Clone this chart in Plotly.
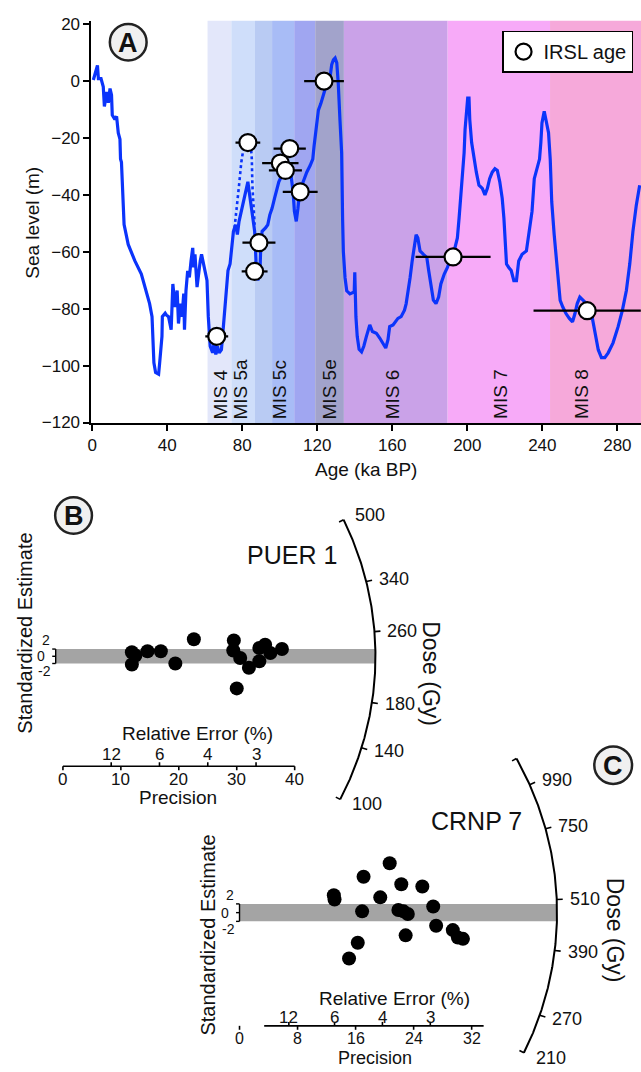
import numpy as np
import plotly.graph_objects as go

W, H = 641, 1072
FONT = "Arial, 'Liberation Sans', sans-serif"
INK = "#111111"
SEA_BLUE = "#0b34fb"

# ---------------- Panel A data ----------------
sea_age = [0.6, 1.5, 2.8, 3.3, 4.7, 5.9, 6.5, 7.7, 8.6, 9.5, 10.3, 10.7, 12.1, 13.0, 13.9,
           14.8, 15.1, 15.6, 16.2, 17.0, 19.2, 22.7, 26.2, 28.9, 30.6, 31.9, 32.4, 32.9,
           33.8, 35.4, 35.9, 37.2, 37.4, 38.9, 39.5, 40.7, 42.1, 43.0, 44.2, 45.3, 46.0,
           47.0, 47.9, 48.8, 49.2, 50.0, 50.9, 51.8, 52.7, 53.6, 54.1, 54.8, 55.9, 56.8,
           57.6, 58.3, 59.4, 60.1, 61.2, 61.9, 62.9, 64.2, 65.0, 65.9, 66.8, 67.7, 68.9,
           69.5, 70.3, 71.2, 72.4, 73.5, 74.2, 75.3, 76.5, 77.4, 78.3, 79.5, 80.9, 82.3,
           83.0, 83.7, 84.8, 85.9, 86.6, 87.1, 87.6, 88.3, 89.4, 89.8, 90.6, 92.4, 93.6,
           94.7, 95.9, 97.2, 98.2, 99.5, 101.2, 103.0, 104.8, 106.0, 107.1, 107.8, 108.8,
           109.7, 110.6, 111.8, 113.0, 114.4, 116.2, 117.6, 118.3, 119.4, 120.6, 121.9,
           122.9, 123.6, 125.0, 126.8, 127.7, 128.6, 129.5, 130.4, 131.2, 132.1, 133.0,
           133.5, 133.9, 134.8, 135.7, 137.4, 138.8, 139.7, 140.0, 140.6, 141.3, 142.3,
           143.6, 144.8, 146.2, 148.0, 149.4, 151.5, 153.3, 155.0, 156.5, 157.7, 158.6,
           160.4, 163.0, 164.7, 166.5, 167.4, 168.3, 169.5, 170.6, 171.8, 172.7, 173.6,
           174.8, 176.6, 178.4, 179.4, 180.6, 181.9, 183.3, 184.7, 185.9, 187.7, 189.4,
           191.2, 193.0, 194.7, 195.6, 196.5, 197.4, 198.3, 198.8, 199.5, 200.2, 200.9,
           201.3, 202.3, 203.6, 204.8, 206.2, 208.0, 209.4, 210.7, 211.9, 213.3, 214.7,
           216.0, 217.3, 218.6, 219.5, 220.4, 220.9, 222.1, 223.4, 224.8, 226.2, 227.4,
           229.2, 231.5, 233.2, 234.5, 235.7, 237.1, 238.5, 239.2, 239.8, 241.0, 242.0,
           243.3, 244.2, 245.0, 246.3, 247.3, 248.6, 249.5, 250.9, 252.6, 254.4, 256.1,
           257.4, 258.6, 260.0, 261.8, 263.6, 266.2, 268.0, 269.8, 271.5, 273.3, 275.1,
           277.7, 280.4, 282.7, 284.8, 286.6, 288.3, 290.1, 291.9]
sea_level = [0.4, 2.7, 5.5, 0.9, 0.9, -2.0, -8.9, -3.8, -7.6, -2.6, -4.9, -11.9, -13.5, -12.4,
             -18.2, -20.4, -27.4, -28.5, -38.9, -50.4, -57.4, -63.1, -67.8, -73.6, -78.2,
             -82.8, -89.7, -99.0, -102.4, -103.0, -99.6, -89.7, -82.8, -81.6, -82.2, -82.8,
             -87.4, -71.3, -79.4, -73.6, -85.2, -78.2, -82.8, -74.7, -87.4, -73.6, -66.7,
             -69.0, -63.2, -58.6, -65.5, -60.9, -72.4, -66.7, -63.2, -60.9, -64.3, -67.8,
             -70.1, -82.8, -93.2, -95.5, -92.0, -96.1, -93.2, -95.5, -94.4, -89.8, -82.8,
             -74.7, -66.6, -64.3, -59.7, -52.8, -50.5, -53.9, -49.3, -45.8, -41.2, -36.6,
             -35.4, -38.9, -43.5, -48.1, -52.7, -59.7, -67.7, -70.0, -67.7, -59.7, -52.8,
             -51.6, -50.5, -47.0, -44.7, -41.2, -38.9, -35.4, -33.1, -30.8, -28.5, -33.1,
             -38.9, -45.8, -49.3, -44.7, -38.9, -36.6, -34.3, -32.0, -29.7, -27.4, -22.8,
             -15.9, -10.2, -7.9, -5.6, -3.3, -1.0, 1.3, 5.8, 7.5, 8.1, 6.4, -1.0, -13.7,
             -25.2, -48.3, -59.8, -69.1, -73.7, -74.8, -74.2, -74.1, -67.2, -82.8, -89.7,
             -94.3, -95.2, -93.2, -89.7, -85.7, -88.0, -88.6, -90.3, -92.0, -93.8, -90.9,
             -86.3, -85.7, -83.4, -82.8, -80.5, -78.2, -74.7, -69.0, -63.2, -58.6, -54.0,
             -55.1, -59.7, -60.9, -62.0, -66.6, -72.4, -77.0, -78.2, -75.9, -71.3, -67.8,
             -65.5, -62.0, -59.7, -55.1, -48.2, -41.2, -34.3, -25.1, -17.0, -11.2, -6.0,
             -6.0, -13.5, -21.6, -27.4, -32.0, -36.6, -37.7, -40.0, -37.7, -34.3, -32.0,
             -30.8, -31.4, -35.4, -41.2, -48.1, -57.4, -64.3, -65.5, -66.6, -70.1, -70.1,
             -63.2, -60.9, -59.7, -52.8, -45.8, -34.3, -30.8, -27.4, -21.6, -14.7, -10.6,
             -13.5, -18.1, -27.4, -42.4, -53.9, -62.0, -71.3, -77.1, -79.4, -81.7, -83.4,
             -84.6, -81.7, -78.2, -75.9, -77.1, -78.2, -81.7, -87.4, -94.4, -97.2, -97.2,
             -95.5, -92.0, -86.3, -80.5, -73.6, -64.3, -52.8, -43.6, -36.6]

# alternative (dotted) MIS 5a highstand
alt_5a_age = [75.9, 77.0, 78.3, 79.5, 80.6, 82.0, 84.4, 85.1, 85.4, 86.1, 86.6]
alt_5a_level = [-51.6, -43.5, -36.6, -28.5, -23.9, -21.0, -21.0, -27.4, -36.6, -44.7, -50.5]

# IRSL ages (ka) with 1-sigma errors, plotted at their sea-level position (m)
irsl_age = [66.4, 83.0, 86.6, 88.9, 105.3, 100.3, 103.0, 110.9, 123.6, 192.4, 263.9]
irsl_level = [-89.7, -21.6, -66.9, -56.8, -23.7, -28.8, -31.4, -38.9, 0.0, -61.8, -80.7]
irsl_err = [6.1, 6.6, 6.9, 8.8, 8.6, 9.7, 8.8, 9.3, 10.6, 20.0, 28.6]

# marine isotope stages
mis_start = [61.5, 74.2, 86.8, 95.9, 107.7, 118.9, 134.2, 189.5, 244.1]
mis_end = [74.2, 86.8, 95.9, 107.7, 118.9, 134.2, 189.5, 244.1, 292.6]
mis_colors = ["#e3e7fa", "#cfdefa", "#b9cbf3", "#a8bcf6", "#a0a6f1", "#a2a3cb",
              "#caa2e8", "#f7aaf8", "#f6a9da"]
mis_label_text = ["MIS 4", "MIS 5a", "MIS 5c", "MIS 5e", "MIS 6", "MIS 7", "MIS 8"]
mis_label_age = [68.2, 79.2, 100.3, 126.3, 160.3, 217.7, 260.9]

age_ticks = [0, 40, 80, 120, 160, 200, 240, 280]
level_ticks = [-120, -100, -80, -60, -40, -20, 0, 20]

# ---------------- Panel B data (PUER 1 radial plot) ----------------
puer1_precision = [11.9, 11.9, 12.5, 14.6, 16.9, 19.4, 22.6, 29.5, 29.4, 30.0, 30.6,
                   32.1, 33.9, 33.9, 34.9, 35.8, 37.8]
puer1_std_est = [1.1, -2.3, 0.2, 1.4, 1.4, -2.0, 4.7, 4.4, 1.6, -8.9, -0.5, -3.2,
                 -1.4, 2.3, 3.2, 0.9, 2.0]
puer1_central_dose = 229.0
puer1_dose_ticks = [500, 340, 260, 180, 140, 100]
puer1_dose_limits = [100, 500]
puer1_precision_ticks = [0, 10, 20, 30, 40]
puer1_rel_err_ticks = [12, 6, 4, 3]
puer1_rel_err_pos = [100 / r for r in puer1_rel_err_ticks]

# ---------------- Panel C data (CRNP 7 radial plot) ----------------
crnp7_precision = [13.0, 13.1, 17.1, 20.7, 22.3, 25.2, 19.4, 16.9, 21.9, 22.6, 23.2,
                   26.7, 27.1, 22.9, 29.4, 30.1, 30.8, 16.3, 15.1]
crnp7_std_est = [4.0, 3.0, 8.2, 11.3, 6.5, 6.0, 3.5, 0.3, 0.6, 0.3, -0.3, 1.4, -3.0,
                 -5.2, -4.0, -5.7, -6.0, -6.9, -10.5]
crnp7_central_dose = 476.0
crnp7_dose_ticks = [990, 750, 510, 390, 270, 210]
crnp7_dose_limits = [210, 1200]
crnp7_precision_ticks = [0, 8, 16, 24, 32]
crnp7_rel_err_ticks = [12, 6, 4, 3]
crnp7_rel_err_pos = [6.8, 13.1, 19.7, 26.3]


def px(x):
    return x / W


def py(y):
    return 1 - y / H


fig = go.Figure()
shapes = []
annotations = []

# ================= Panel A =================
for x0, x1, c in zip(mis_start, mis_end, mis_colors):
    shapes.append(dict(type="rect", xref="x", yref="y domain", x0=x0, x1=x1, y0=0, y1=1,
                       fillcolor=c, line=dict(width=0), layer="below"))

fig.add_trace(go.Scatter(x=sea_age, y=sea_level, mode="lines",
                         line=dict(color=SEA_BLUE, width=3.2), showlegend=False,
                         xaxis="x", yaxis="y"))
fig.add_trace(go.Scatter(x=alt_5a_age, y=alt_5a_level, mode="lines",
                         line=dict(color=SEA_BLUE, width=2.6, dash="dot"), showlegend=False,
                         xaxis="x", yaxis="y"))
fig.add_trace(go.Scatter(x=irsl_age, y=irsl_level, mode="markers", name="IRSL age",
                         marker=dict(size=17, color="white", line=dict(color="black", width=2.2)),
                         error_x=dict(type="data", array=irsl_err, color="black",
                                      thickness=2.2, width=0),
                         showlegend=True, xaxis="x", yaxis="y"))

for name, a in zip(mis_label_text, mis_label_age):
    annotations.append(dict(x=a, y=-119.6, xref="x", yref="y", text=name, textangle=-90,
                            showarrow=False, xanchor="center", yanchor="bottom",
                            font=dict(size=19, color=INK, family=FONT)))


# ================= Radial plots =================
def radial_panel(xa, ya, g, prec, est, central, dose_ticks, dose_lim,
                 prec_ticks, re_ticks, re_pos, band_x0, axis_x0, axis_x1,
                 re_shift, prec_shift, prec_size):
    xr, yr = xa, ya
    sx, sy, R = g["sx"], g["sy"], g["R"]
    k = sy / sx
    z0 = np.log(central)

    def ang(d):
        return np.arctan(k * (np.log(d) - z0))

    def polar(r, th):
        return r * np.cos(th) / sx, r * np.sin(th) / sy

    # +/-2 band around the central value
    shapes.append(dict(type="rect", xref=xr, yref=yr, x0=band_x0, x1=R / sx, y0=-2, y1=2,
                       fillcolor="#a4a4a4", line=dict(width=0), layer="below"))

    # dose arc
    d = np.geomspace(dose_lim[0], dose_lim[1], 240)
    ax_, ay_ = polar(R, ang(d))
    fig.add_trace(go.Scatter(x=ax_, y=ay_, mode="lines", line=dict(color="black", width=2),
                             showlegend=False, xaxis=xr, yaxis=yr, hoverinfo="skip"))
    for lim in dose_lim:
        th = ang(lim)
        x0, y0 = polar(R - 5, th)
        x1, y1 = polar(R, th)
        shapes.append(dict(type="line", xref=xr, yref=yr, x0=x0, y0=y0, x1=x1, y1=y1,
                           line=dict(color="black", width=1.6)))
    for dt in dose_ticks:
        th = ang(dt)
        if dt not in dose_lim:
            x0, y0 = polar(R, th)
            x1, y1 = polar(R + 6, th)
            shapes.append(dict(type="line", xref=xr, yref=yr, x0=x0, y0=y0, x1=x1, y1=y1,
                               line=dict(color="black", width=1.6)))
        lx, ly = polar(R + 11, th)
        annotations.append(dict(x=lx, y=ly, xref=xr, yref=yr, text=str(dt), showarrow=False,
                                xanchor="left", yanchor="middle",
                                font=dict(size=18, color=INK, family=FONT)))

    # individual estimates
    fig.add_trace(go.Scatter(x=prec, y=est, mode="markers",
                             marker=dict(size=14, color="black"), showlegend=False,
                             xaxis=xr, yaxis=yr))

    # standardised-estimate bracket
    bx = band_x0
    tick = 3.5 / sx
    shapes.append(dict(type="line", xref=xr, yref=yr, x0=bx, x1=bx, y0=-2, y1=2,
                       line=dict(color="black", width=1.4)))
    for v in (-2, 0, 2):
        shapes.append(dict(type="line", xref=xr, yref=yr, x0=bx - tick, x1=bx, y0=v, y1=v,
                           line=dict(color="black", width=1.4)))
    for v, dx, dy in ((2, -4, 9), (0, -9, 0), (-2, -3, -8)):
        annotations.append(dict(x=bx, y=v, xref=xr, yref=yr, text=str(v), showarrow=False,
                                xanchor="right", yanchor="middle", xshift=dx, yshift=dy,
                                font=dict(size=14, color=INK, family=FONT)))

    # precision / relative error axis
    yl = g["axis_y"]
    shapes.append(dict(type="line", xref=xr, yref=yr, x0=axis_x0, x1=axis_x1, y0=yl, y1=yl,
                       line=dict(color="black", width=1.6)))
    for p in prec_ticks:
        shapes.append(dict(type="line", xref=xr, yref=yr, x0=p, x1=p, y0=yl, y1=yl - 4 / sy,
                           line=dict(color="black", width=1.6)))
        annotations.append(dict(x=p, y=yl, xref=xr, yref=yr, text=str(p), showarrow=False,
                                xanchor="center", yanchor="top", yshift=prec_shift,
                                font=dict(size=prec_size, color=INK, family=FONT)))
    for r, p in zip(re_ticks, re_pos):
        shapes.append(dict(type="line", xref=xr, yref=yr, x0=p, x1=p, y0=yl, y1=yl + 4 / sy,
                           line=dict(color="black", width=1.6)))
        annotations.append(dict(x=p, y=yl, xref=xr, yref=yr, text=str(r), showarrow=False,
                                xanchor="center", yanchor="bottom", yshift=re_shift,
                                font=dict(size=17, color=INK, family=FONT)))


geomB = dict(sx=5.83, sy=3.66, R=314.5, ox=59.3, oy=659.5, top=480, bottom=830)
geomB["axis_y"] = (geomB["oy"] - 771) / geomB["sy"]
geomC = dict(sx=7.3, sy=4.43, R=319.5, ox=237.0, oy=919.5, top=740, bottom=1072)
geomC["axis_y"] = (geomC["oy"] - 1034.3) / geomC["sy"]

radial_panel("x2", "y2", geomB, puer1_precision, puer1_std_est, puer1_central_dose,
             puer1_dose_ticks, puer1_dose_limits, puer1_precision_ticks,
             puer1_rel_err_ticks, puer1_rel_err_pos, band_x0=-1.25, axis_x0=0, axis_x1=40,
             re_shift=0, prec_shift=-2, prec_size=17)
radial_panel("x3", "y3", geomC, crnp7_precision, crnp7_std_est, crnp7_central_dose,
             crnp7_dose_ticks, crnp7_dose_limits, crnp7_precision_ticks,
             crnp7_rel_err_ticks, crnp7_rel_err_pos, band_x0=0, axis_x0=3.4, axis_x1=33.65,
             re_shift=-3, prec_shift=-2, prec_size=16)


def axis_box(g):
    xr = [-g["ox"] / g["sx"], (W - g["ox"]) / g["sx"]]
    yr = [-(g["bottom"] - g["oy"]) / g["sy"], (g["oy"] - g["top"]) / g["sy"]]
    dom = [py(g["bottom"]), py(g["top"])]
    return xr, yr, dom


xrB, yrB, domB = axis_box(geomB)
xrC, yrC, domC = axis_box(geomC)

# ---------------- text labels ----------------
def label(x, y, text, size, angle=0, bold=False):
    annotations.append(dict(x=px(x), y=py(y), xref="paper", yref="paper",
                            text=f"<b>{text}</b>" if bold else text, textangle=angle,
                            showarrow=False, xanchor="center", yanchor="middle",
                            font=dict(size=size, color=INK, family=FONT)))


label(29, 220, "Sea level (m)", 19, angle=-90)

label(290, 557, "PUER 1", 25)
label(21.7, 636, "Standardized Estimate", 20, angle=-90)
label(430, 677, "Dose (Gy)", 23, angle=90)
label(195, 738, "Relative Error (%)", 19)
label(175, 803, "Precision", 19)

label(475, 827, "CRNP 7", 25)
label(205, 942, "Standardized Estimate", 20, angle=-90)
label(615, 937, "Dose (Gy)", 23, angle=90)
label(393, 1007, "Relative Error (%)", 19)
label(373, 1067, "Precision", 18)

# circled panel letters
for letter, cx, cy, r in (("A", 125, 36.7, 18.5), ("B", 70, 516.7, 18.5), ("C", 613, 770, 19)):
    shapes.append(dict(type="circle", xref="paper", yref="paper",
                       x0=px(cx - r), x1=px(cx + r), y0=py(cy + r), y1=py(cy - r),
                       fillcolor="#f0f0f0", line=dict(color="#222222", width=2.5)))
    label(cx, cy + 1, letter, 27, bold=True)

axis_common = dict(showline=True, linecolor="black", linewidth=2, ticks="outside",
                   ticklen=6, tickwidth=2, tickcolor="black", showgrid=False, zeroline=False,
                   tickfont=dict(size=17, color=INK, family=FONT))
hidden = dict(visible=False, showgrid=False, zeroline=False)

fig.update_layout(
    width=W, height=H, margin=dict(l=0, r=0, t=0, b=0),
    paper_bgcolor="white", plot_bgcolor="rgba(0,0,0,0)",
    font=dict(family=FONT, color=INK),
    xaxis=dict(domain=[px(88), 1], range=[-0.4, 292.6], tickvals=age_ticks, anchor="y",
               title=dict(text="Age (ka BP)", font=dict(size=19, color=INK, family=FONT),
                          standoff=8),
               **axis_common),
    yaxis=dict(domain=[py(423), py(15)], range=[-120.2, 21.2], tickvals=level_ticks,
               anchor="x", **axis_common),
    xaxis2=dict(domain=[0, 1], range=xrB, anchor="y2", **hidden),
    yaxis2=dict(domain=domB, range=yrB, anchor="x2", **hidden),
    xaxis3=dict(domain=[0, 1], range=xrC, anchor="y3", **hidden),
    yaxis3=dict(domain=domC, range=yrC, anchor="x3", **hidden),
    legend=dict(x=px(633), xanchor="right", y=py(25), yanchor="top", bgcolor="white",
                bordercolor="black", borderwidth=1.5,
                font=dict(size=20, color=INK, family=FONT)),
    shapes=shapes,
    annotations=annotations,
)

fig.write_html("out.html")
